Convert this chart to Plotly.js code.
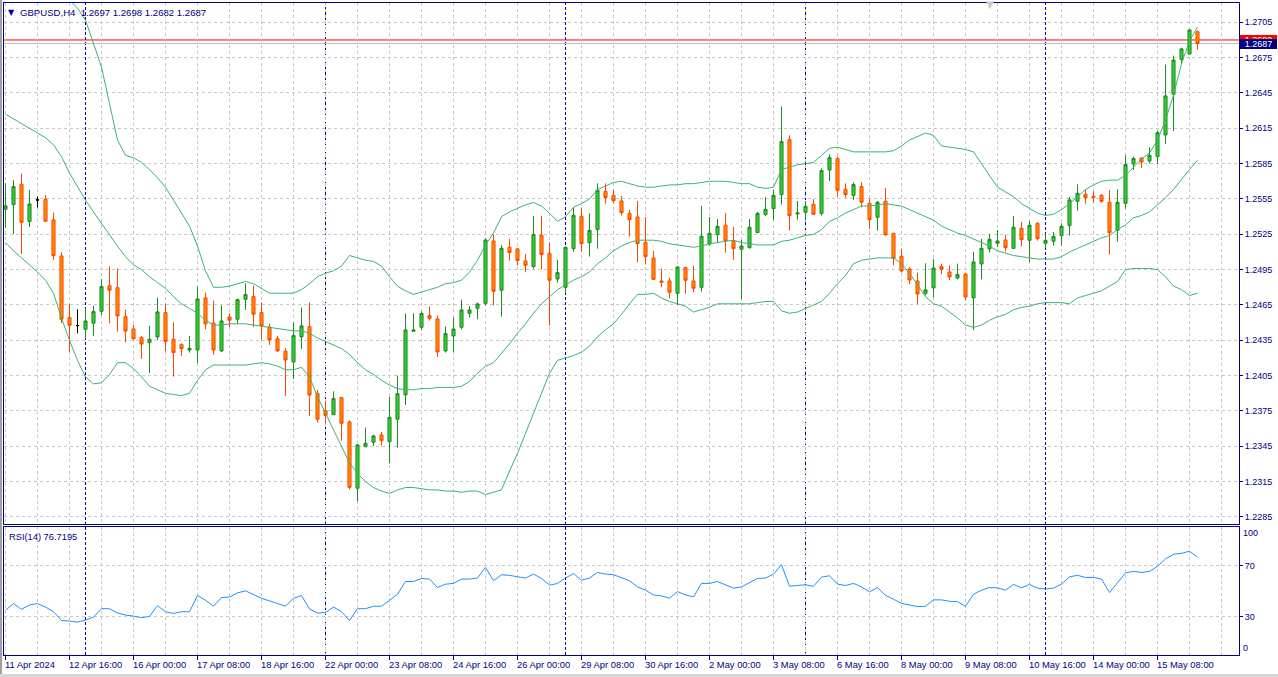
<!DOCTYPE html>
<html><head><meta charset="utf-8">
<script src="https://cdn.plot.ly/plotly-3.0.1.min.js"></script>
<style>html,body{margin:0;padding:0;background:#fff;}#chart{width:1278px;height:677px;}</style>
</head><body><div id="chart"></div>
<script>
const symbolText = 'GBPUSD,H4';
const headerOHLC = ['1.2697', '1.2698', '1.2682', '1.2687'];
const rsiText = 'RSI(14) 76.7195';

const openP = [
1.25462,1.25502,1.25675,1.25358,1.25542,1.25547,1.25372,1.25066,1.24543,1.24475,
1.24444,1.24495,1.24596,1.24814,1.24797,1.24551,1.24446,1.24373,1.24330,1.24379,
1.24585,1.24359,1.24313,1.24268,1.24268,1.24710,1.24497,1.24260,1.24548,1.24529,
1.24698,1.24721,1.24585,1.24463,1.24364,1.24257,1.24166,1.24379,1.24466,1.23900,
1.23753,1.23719,1.23863,1.23657,1.23094,1.23447,1.23484,1.23546,1.23490,1.23680,
1.23886,1.24427,1.24461,1.24560,1.24531,1.24260,1.24387,1.24461,1.24579,1.24622,
1.24664,1.25194,1.24775,1.25140,1.25126,1.25024,1.24976,1.25242,1.25089,1.24871,
1.24800,1.25128,1.25403,1.25179,1.25290,1.25615,1.25581,1.25533,1.25428,1.25397,
1.25182,1.25049,1.24854,1.24854,1.24749,1.24967,1.24854,1.24800,1.25168,1.25247,
1.25327,1.25191,1.25123,1.25137,1.25264,1.25417,1.25468,1.25587,1.26054,1.25423,
1.25437,1.25505,1.25428,1.25796,1.25893,1.25632,1.25581,1.25655,1.25513,1.25394,
1.25530,1.25259,1.25063,1.24956,1.24854,1.24749,1.24795,1.24976,1.24930,1.24879,
1.24913,1.24710,1.24998,1.25126,1.25174,1.25202,1.25131,1.25301,1.25199,1.25344,
1.25174,1.25191,1.25239,1.25324,1.25530,1.25590,1.25573,1.25581,1.25522,1.25284,
1.25513,1.25847,1.25898,1.25873,1.25910,1.26093,1.26439,1.26736,1.26781,1.26970];

const highP = [
1.25683,1.25709,1.25768,1.25627,1.25570,1.25584,1.25434,1.25097,1.24656,1.24613,
1.24625,1.24642,1.24868,1.24976,1.24961,1.24611,1.24480,1.24387,1.24473,1.24712,
1.24662,1.24500,1.24325,1.24387,1.24806,1.24755,1.24687,1.24645,1.24577,1.24704,
1.24834,1.24814,1.24673,1.24492,1.24387,1.24282,1.24500,1.24628,1.24670,1.23929,
1.23832,1.23917,1.23866,1.23668,1.23465,1.23609,1.23549,1.23572,1.23872,1.24050,
1.24577,1.24580,1.24594,1.24636,1.24560,1.24466,1.24543,1.24695,1.24642,1.24670,
1.25216,1.25250,1.25160,1.25211,1.25134,1.25083,1.25406,1.25406,1.25179,1.25032,
1.25145,1.25479,1.25474,1.25428,1.25683,1.25683,1.25632,1.25576,1.25457,1.25533,
1.25397,1.25109,1.24959,1.24882,1.24976,1.24976,1.24984,1.25491,1.25397,1.25380,
1.25431,1.25312,1.25202,1.25380,1.25440,1.25567,1.25627,1.26334,1.26091,1.25533,
1.25533,1.25550,1.25810,1.25929,1.25910,1.25683,1.25689,1.25692,1.25550,1.25533,
1.25644,1.25262,1.25128,1.24970,1.24925,1.25004,1.25041,1.25001,1.24984,1.25001,
1.24925,1.25100,1.25211,1.25253,1.25287,1.25245,1.25406,1.25355,1.25363,1.25352,
1.25259,1.25270,1.25344,1.25567,1.25675,1.25629,1.25615,1.25593,1.25627,1.25632,
1.25921,1.25910,1.25904,1.25989,1.26130,1.26691,1.26767,1.26835,1.26993,1.26980];

const lowP = [
1.25307,1.25253,1.25083,1.25312,1.25477,1.25358,1.25032,1.24495,1.24254,1.24410,
1.24362,1.24387,1.24565,1.24495,1.24424,1.24333,1.24358,1.24192,1.24073,1.24353,
1.24260,1.24042,1.24217,1.24246,1.24158,1.24444,1.24226,1.24251,1.24461,1.24489,
1.24608,1.24463,1.24353,1.24311,1.24251,1.23878,1.24022,1.24277,1.23708,1.23651,
1.23646,1.23714,1.23498,1.23085,1.22983,1.23442,1.23453,1.23456,1.23306,1.23439,
1.23801,1.24424,1.24435,1.24517,1.24209,1.24246,1.24251,1.24444,1.24543,1.24529,
1.24647,1.24647,1.24551,1.25027,1.24984,1.24928,1.24959,1.24953,1.24475,1.24840,
1.24749,1.25103,1.25103,1.25061,1.25128,1.25510,1.25516,1.25409,1.25230,1.25012,
1.24995,1.24860,1.24800,1.24707,1.24650,1.24749,1.24758,1.24763,1.25154,1.25182,
1.25095,1.25032,1.24698,1.25128,1.25262,1.25406,1.25372,1.25502,1.25281,1.25375,
1.25366,1.25414,1.25409,1.25703,1.25570,1.25561,1.25542,1.25479,1.25295,1.25281,
1.25239,1.24987,1.24925,1.24826,1.24659,1.24732,1.24715,1.24911,1.24860,1.24868,
1.24690,1.24438,1.24868,1.25095,1.25143,1.25103,1.25126,1.25145,1.25012,1.25196,
1.25134,1.25154,1.25154,1.25239,1.25451,1.25510,1.25519,1.25519,1.25078,1.25188,
1.25468,1.25796,1.25813,1.25853,1.25847,1.26017,1.26127,1.26696,1.26778,1.26820];

const closeP = [
1.25491,1.25655,1.25352,1.25508,1.25542,1.25361,1.25069,1.24529,1.24478,1.24475,
1.24514,1.24594,1.24806,1.24775,1.24557,1.24429,1.24362,1.24319,1.24359,1.24591,
1.24339,1.24246,1.24279,1.24282,1.24701,1.24489,1.24268,1.24514,1.24520,1.24695,
1.24738,1.24571,1.24472,1.24353,1.24260,1.24183,1.24390,1.24473,1.23886,1.23680,
1.23711,1.23855,1.23646,1.23102,1.23462,1.23476,1.23538,1.23498,1.23696,1.23897,
1.24438,1.24438,1.24577,1.24537,1.24251,1.24407,1.24446,1.24608,1.24608,1.24659,
1.25202,1.24766,1.25131,1.25095,1.25027,1.24987,1.25250,1.25078,1.24860,1.24925,
1.25140,1.25411,1.25171,1.25284,1.25624,1.25561,1.25536,1.25434,1.25375,1.25171,
1.25061,1.24868,1.24843,1.24758,1.24973,1.24860,1.24792,1.25233,1.25259,1.25318,
1.25194,1.25128,1.25151,1.25310,1.25428,1.25462,1.25581,1.26037,1.25409,1.25431,
1.25488,1.25420,1.25791,1.25901,1.25624,1.25587,1.25672,1.25522,1.25375,1.25522,
1.25245,1.25046,1.24939,1.24862,1.24744,1.24778,1.24964,1.24953,1.24888,1.24908,
1.24718,1.25015,1.25131,1.25208,1.25194,1.25137,1.25310,1.25205,1.25327,1.25213,
1.25199,1.25233,1.25318,1.25542,1.25598,1.25561,1.25564,1.25530,1.25264,1.25522,
1.25842,1.25893,1.25864,1.25921,1.26113,1.26425,1.26730,1.26824,1.26985,1.26870];

const bbUpper = [
1.2745,1.2746,1.2746,1.2745,1.2744,1.2742,1.2738,1.2732,1.2724,1.2717,
1.2707,1.2687,1.2667,1.2636,1.2605,1.2592,1.2590,1.2586,1.2580,1.2573,
1.2565,1.2554,1.2543,1.2532,1.2515,1.2494,1.2480,1.2480,1.2481,1.2483,
1.2485,1.2483,1.2479,1.2475,1.2475,1.2475,1.2475,1.2478,1.2483,1.2489,
1.2492,1.2494,1.2498,1.2507,1.2505,1.2503,1.2502,1.2498,1.2489,1.2481,
1.2477,1.2474,1.2476,1.2478,1.2480,1.2483,1.2484,1.2486,1.2493,1.2503,
1.2516,1.2526,1.2540,1.2544,1.2547,1.2550,1.2552,1.2549,1.2543,1.2536,
1.2540,1.2548,1.2551,1.2555,1.2563,1.2566,1.2569,1.2570,1.2568,1.2566,
1.2565,1.2565,1.2566,1.2567,1.2567,1.2568,1.2568,1.2569,1.2570,1.2570,
1.2570,1.2569,1.2568,1.2568,1.2565,1.2564,1.2565,1.2580,1.2582,1.2584,
1.2585,1.2586,1.2592,1.2598,1.2599,1.2597,1.2595,1.2595,1.2595,1.2595,
1.2595,1.2596,1.2600,1.2605,1.2608,1.2611,1.2609,1.2600,1.2599,1.2598,
1.2597,1.2595,1.2585,1.2575,1.2565,1.2561,1.2557,1.2551,1.2547,1.2543,
1.2541,1.2542,1.2546,1.2551,1.2557,1.2563,1.2567,1.2570,1.2571,1.2571,
1.2575,1.2582,1.2589,1.2594,1.2605,1.2622,1.2643,1.2670,1.2689,1.2701];

const bbMiddle = [
1.2627,1.2623,1.2619,1.2615,1.2611,1.2607,1.2601,1.2591,1.2577,1.2565,
1.2554,1.2544,1.2534,1.2524,1.2515,1.2506,1.2499,1.2495,1.2489,1.2484,
1.2479,1.2472,1.2466,1.2462,1.2458,1.2452,1.2448,1.2448,1.2449,1.2449,
1.2449,1.2448,1.2447,1.2446,1.2445,1.2444,1.2443,1.2443,1.2441,1.2437,
1.2434,1.2431,1.2428,1.2423,1.2416,1.2410,1.2406,1.2401,1.2397,1.2394,
1.2393,1.2393,1.2394,1.2394,1.2395,1.2395,1.2395,1.2396,1.2400,1.2407,
1.2413,1.2416,1.2424,1.2432,1.2441,1.2449,1.2458,1.2466,1.2472,1.2478,
1.2482,1.2486,1.2489,1.2493,1.2500,1.2505,1.2511,1.2515,1.2518,1.2520,
1.2520,1.2520,1.2519,1.2517,1.2516,1.2515,1.2514,1.2515,1.2517,1.2518,
1.2519,1.2520,1.2518,1.2517,1.2516,1.2516,1.2516,1.2519,1.2520,1.2522,
1.2524,1.2525,1.2529,1.2536,1.2539,1.2543,1.2546,1.2549,1.2549,1.2550,
1.2551,1.2550,1.2549,1.2546,1.2543,1.2540,1.2537,1.2532,1.2529,1.2526,
1.2524,1.2521,1.2518,1.2515,1.2511,1.2509,1.2507,1.2506,1.2505,1.2504,
1.2504,1.2504,1.2506,1.2510,1.2513,1.2516,1.2519,1.2522,1.2524,1.2529,
1.2533,1.2539,1.2541,1.2544,1.2550,1.2556,1.2563,1.2572,1.2580,1.2588];

const bbLower = [
1.2518,1.2511,1.2505,1.2499,1.2493,1.2486,1.2475,1.2454,1.2435,1.2418,
1.2404,1.2398,1.2399,1.2406,1.2416,1.2416,1.2411,1.2404,1.2396,1.2393,
1.2390,1.2389,1.2388,1.2390,1.2401,1.2410,1.2414,1.2414,1.2414,1.2414,
1.2414,1.2415,1.2416,1.2415,1.2413,1.2410,1.2410,1.2412,1.2404,1.2387,
1.2373,1.2359,1.2345,1.2331,1.2322,1.2315,1.2310,1.2307,1.2305,1.2308,
1.2310,1.2310,1.2309,1.2308,1.2308,1.2307,1.2307,1.2306,1.2307,1.2307,
1.2304,1.2306,1.2308,1.2324,1.2339,1.2356,1.2373,1.2390,1.2407,1.2418,
1.2420,1.2422,1.2425,1.2430,1.2438,1.2444,1.2449,1.2457,1.2466,1.2474,
1.2474,1.2475,1.2471,1.2468,1.2466,1.2464,1.2459,1.2461,1.2463,1.2466,
1.2466,1.2466,1.2466,1.2466,1.2467,1.2468,1.2468,1.2460,1.2458,1.2459,
1.2462,1.2465,1.2468,1.2475,1.2483,1.2490,1.2500,1.2503,1.2504,1.2505,
1.2505,1.2505,1.2500,1.2492,1.2482,1.2472,1.2466,1.2464,1.2459,1.2454,
1.2448,1.2446,1.2448,1.2452,1.2455,1.2457,1.2461,1.2463,1.2464,1.2466,
1.2467,1.2467,1.2467,1.2466,1.2471,1.2473,1.2475,1.2477,1.2481,1.2485,
1.2495,1.2496,1.2496,1.2496,1.2495,1.2489,1.2481,1.2478,1.2473,1.2475];

const rsi = [
35.0,40.3,35.8,39.2,40.3,37.6,33.9,27.1,26.6,25.8,
27.4,29.7,36.3,36.3,32.9,31.3,30.5,29.2,30.3,38.7,
33.9,32.6,33.9,33.9,46.6,42.9,38.2,45.0,45.5,48.7,
50.3,47.1,44.5,42.4,40.3,38.2,44.5,46.6,36.0,32.9,
33.2,37.6,33.9,27.1,36.3,36.3,38.2,38.2,42.9,47.6,
57.6,57.6,60.0,59.5,52.9,55.5,56.1,59.5,59.5,60.3,
68.7,58.2,62.9,62.4,61.3,60.3,63.4,60.0,54.7,56.1,
60.3,63.9,58.7,60.3,64.7,63.4,62.9,60.3,58.2,53.4,
50.8,47.1,46.3,44.5,49.7,47.1,45.5,56.1,56.1,57.6,
54.7,52.4,53.4,56.8,60.0,60.3,63.4,70.8,53.9,54.5,
55.0,53.9,61.0,62.1,55.5,54.5,56.1,53.4,49.5,52.9,
46.8,43.7,40.5,39.2,37.9,38.2,43.2,43.2,42.1,41.8,
38.2,47.6,50.8,52.9,52.6,50.8,55.3,52.6,55.3,52.4,
51.8,52.4,55.5,61.3,62.4,60.8,60.8,59.5,48.9,56.6,
64.5,65.5,64.7,65.5,69.5,75.3,78.9,79.7,81.3,76.7195];

const tickIdx = [0,8,16,24,32,40,48,56,64,72,80,88,96,104,112,120,128,136,144];
const tickLabels = ['11 Apr 2024','12 Apr 16:00','16 Apr 00:00','17 Apr 08:00','18 Apr 16:00',
 '22 Apr 00:00','23 Apr 08:00','24 Apr 16:00','26 Apr 00:00','29 Apr 08:00','30 Apr 16:00',
 '2 May 00:00','3 May 08:00','6 May 16:00','8 May 00:00','9 May 08:00','10 May 16:00',
 '14 May 00:00','15 May 08:00'];
const weekStarts = [10, 40, 70, 100, 130];
const bidPrice = 1.2687;
const askPrice = 1.2690;
const rsiLevels = [30, 70];
const rsiBounds = [0, 100];

// ---------- build ----------
const NAVY = '#000080', GRID = '#c8c8c8';
const FONT = 'Liberation Sans, Arial, sans-serif';
const idx = openP.map((_, i) => i);
const isDoji = i => openP[i] === closeP[i];
const notDoji = i => !isDoji(i);
const pick = (arr, f) => idx.filter(f).map(i => arr[i]);

// pixel helpers for paper placement (plot area: x 4..1239, y 3..655)
const PW = 1235, PH = 652;
const px2paperX = px => (px - 4) / PW;
const px2paperY = py => (655 - py) / PH;

const traces = [
  {type:'candlestick', xaxis:'x', yaxis:'y', x: idx.filter(notDoji),
   open: pick(openP, notDoji), high: pick(highP, notDoji), low: pick(lowP, notDoji), close: pick(closeP, notDoji),
   increasing:{line:{color:'#1f8a1f', width:1}, fillcolor:'#32CD32'},
   decreasing:{line:{color:'#FF4500', width:1}, fillcolor:'#FF8C00'},
   whiskerwidth:0, hoverinfo:'skip', showlegend:false},
  {type:'candlestick', xaxis:'x', yaxis:'y', x: idx.filter(isDoji),
   open: pick(openP, isDoji), high: pick(highP, isDoji), low: pick(lowP, isDoji), close: pick(closeP, isDoji),
   increasing:{line:{color:'#000000', width:1}, fillcolor:'#000000'},
   decreasing:{line:{color:'#000000', width:1}, fillcolor:'#000000'},
   whiskerwidth:0, hoverinfo:'skip', showlegend:false},
  {type:'scatter', mode:'lines', xaxis:'x', yaxis:'y', x: idx, y: bbUpper, line:{color:'#3CB371', width:1}, hoverinfo:'skip', showlegend:false},
  {type:'scatter', mode:'lines', xaxis:'x', yaxis:'y', x: idx, y: bbMiddle, line:{color:'#3CB371', width:1}, hoverinfo:'skip', showlegend:false},
  {type:'scatter', mode:'lines', xaxis:'x', yaxis:'y', x: idx, y: bbLower, line:{color:'#3CB371', width:1}, hoverinfo:'skip', showlegend:false},
  {type:'scatter', mode:'lines', xaxis:'x2', yaxis:'y2', x: idx, y: rsi, line:{color:'#1E90FF', width:1}, hoverinfo:'skip', showlegend:false}
];

// candle i centred on pixel column 5 + 8*i (half-pixel aligned for crisp 1px lines)
const xRange = [-0.1875, 154.1875];
const gridCommon = {showgrid:true, gridcolor:GRID, griddash:'3px,3px', gridwidth:1};
const xBase = Object.assign({range:xRange, tickmode:'array', tickvals:tickIdx, showticklabels:false,
  minor: Object.assign({tickmode:'linear', tick0:0, dtick:4, ticks:''}, gridCommon),
  showline:true, mirror:true, linecolor:NAVY, linewidth:1, zeroline:false, fixedrange:true}, gridCommon);

const annotations = [];
// header
annotations.push({xref:'paper', yref:'paper', x:px2paperX(11.5), y:px2paperY(12), xanchor:'center', yanchor:'middle',
  text:'▼', showarrow:false, font:{family:'DejaVu Sans', size:8, color:NAVY}, borderpad:0, borderwidth:0});
annotations.push({xref:'paper', yref:'paper', x:px2paperX(20), y:px2paperY(12), xanchor:'left', yanchor:'middle',
  text: symbolText + '\u00a0\u00a0' + headerOHLC.join(' '), showarrow:false, font:{family:FONT, size:9.6, color:NAVY}, borderpad:0, borderwidth:0});
// rsi label
annotations.push({xref:'paper', yref:'paper', x:px2paperX(9), y:px2paperY(537), xanchor:'left', yanchor:'middle',
  text: rsiText, showarrow:false, font:{family:FONT, size:9.3, color:NAVY}, borderpad:0, borderwidth:0});
// x-axis labels
tickIdx.forEach((t, k) => annotations.push({xref:'x2', yref:'paper', x:t, y:px2paperY(664.3), xanchor:'left', yanchor:'middle',
  xshift:-1, text: tickLabels[k], showarrow:false, font:{family:FONT, size:9.4, color:NAVY}, borderpad:0, borderwidth:0}));
// rsi 100 / 0 labels
annotations.push({xref:'paper', yref:'y2', x:1, y:rsiBounds[1], xanchor:'left', yanchor:'middle', xshift:4, yshift:-6,
  text:String(rsiBounds[1]), showarrow:false, font:{family:FONT, size:9, color:NAVY}, borderpad:0, borderwidth:0});
annotations.push({xref:'paper', yref:'y2', x:1, y:rsiBounds[0], xanchor:'left', yanchor:'middle', xshift:4, yshift:7,
  text:String(rsiBounds[0]), showarrow:false, font:{family:FONT, size:9, color:NAVY}, borderpad:0, borderwidth:0});
// ask / bid price tags (the bid tag sits over the ask tag, as in the terminal)
annotations.push({xref:'paper', yref:'y', x:1, y:askPrice, xanchor:'left', yanchor:'middle', xshift:1,
  text:askPrice.toFixed(4), showarrow:false, bgcolor:'#ff0000', width:37, height:10, align:'center',
  font:{family:FONT, size:9, color:'#ffffff'}, borderpad:0, borderwidth:0});
annotations.push({xref:'paper', yref:'y', x:1, y:bidPrice, xanchor:'left', yanchor:'middle', xshift:1,
  text:bidPrice.toFixed(4), showarrow:false, bgcolor:NAVY, width:37, height:10, align:'center',
  font:{family:FONT, size:9, color:'#ffffff'}, borderpad:0, borderwidth:0});
// small grey marker at top
annotations.push({xref:'paper', yref:'paper', x:px2paperX(990), y:px2paperY(5), xanchor:'center', yanchor:'middle',
  text:'▼', showarrow:false, font:{family:'DejaVu Sans', size:10, color:'#cccccc'}, borderpad:0, borderwidth:0});

const shapes = [];
weekStarts.forEach(w => shapes.push({type:'line', xref:'x', yref:'paper', x0:w, x1:w, y0:0, y1:1, layer:'below',
  line:{color:NAVY, width:1, dash:'3px,2px'}}));
shapes.push({type:'line', xref:'paper', yref:'y', x0:0, x1:1, y0:bidPrice, y1:bidPrice, layer:'below', line:{color:'#c0c0c0', width:1}});
shapes.push({type:'line', xref:'paper', yref:'y', x0:0, x1:1, y0:askPrice, y1:askPrice, layer:'below', line:{color:'#ff0000', width:1}});
shapes.push({type:'line', xref:'paper', yref:'paper', x0:px2paperX(1), x1:px2paperX(1), y0:px2paperY(677), y1:px2paperY(0), line:{color:'#a0a0a0', width:2}});
shapes.push({type:'line', xref:'paper', yref:'paper', x0:px2paperX(0), x1:px2paperX(1278), y0:px2paperY(675.5), y1:px2paperY(675.5), line:{color:'#d8d8d8', width:3}});

const layout = {
  width:1278, height:677, margin:{l:4, r:39, t:3, b:22, pad:0},
  paper_bgcolor:'#ffffff', plot_bgcolor:'#ffffff', showlegend:false, hovermode:false,
  boxgap:0.45,
  font:{family:FONT, size:9, color:NAVY},
  xaxis: Object.assign({}, xBase, {domain:[0,1], anchor:'y', ticks:'', rangeslider:{visible:false}}),
  xaxis2: Object.assign({}, xBase, {domain:[0,1], anchor:'y2', ticks:'outside', ticklen:4, tickcolor:NAVY, tickwidth:1}),
  yaxis: Object.assign({domain:[0.2014,1], range:[1.22793,1.27214], side:'right', tickmode:'linear', tick0:1.2285, dtick:0.003,
    tickformat:'.4f', ticks:'outside', ticklen:3, tickcolor:NAVY, tickfont:{family:FONT, size:9, color:NAVY},
    showline:true, mirror:true, linecolor:NAVY, linewidth:1, zeroline:false, fixedrange:true}, gridCommon),
  yaxis2: Object.assign({domain:[0,0.1957], range:rsiBounds, side:'right', tickmode:'array', tickvals:rsiLevels,
    ticktext:rsiLevels.map(String), ticks:'outside', ticklen:3, tickcolor:NAVY, tickfont:{family:FONT, size:9, color:NAVY},
    showline:true, mirror:true, linecolor:NAVY, linewidth:1, zeroline:false, fixedrange:true}, gridCommon),
  annotations: annotations,
  shapes: shapes
};

Plotly.newPlot('chart', traces, layout, {staticPlot:true, displayModeBar:false});
</script>
</body></html>
